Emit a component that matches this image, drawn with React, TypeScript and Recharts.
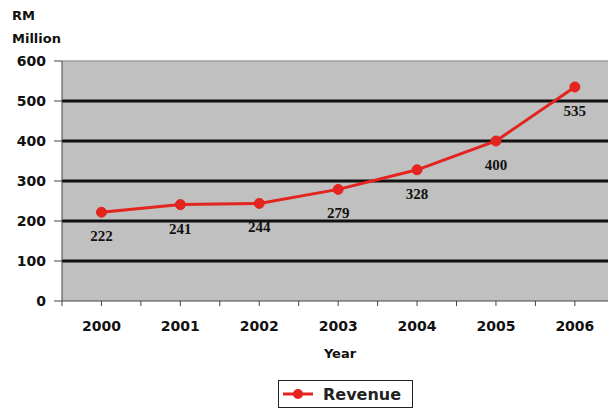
import React from 'react';
import { LineChart, Line, XAxis, YAxis, ReferenceLine, ReferenceArea, Legend } from 'recharts';

const years = ['2000', '2001', '2002', '2003', '2004', '2005', '2006'];
const revenue = [222, 241, 244, 279, 328, 400, 535];
const yTicks = [0, 100, 200, 300, 400, 500, 600];
const gridValues = [100, 200, 300, 400, 500];
const xTicks = [-0.5, 0, 0.5, 1, 1.5, 2, 2.5, 3, 3.5, 4, 4.5, 5, 5.5, 6];

const data = years.map((y, i) => ({ idx: i, year: y, revenue: revenue[i] }));

const RED = '#e3241f';
const SANS = '"DejaVu Sans", Verdana, sans-serif';

const renderPointLabel = (props: any) => {
  const { x, y, value } = props;
  return (
    <text x={x} y={y + 29} textAnchor="middle" fontFamily='"Liberation Serif", serif' fontWeight="bold" fontSize={15} fill="#111">
      {value}
    </text>
  );
};

const renderLegend = () => (
  <div
    style={{
      boxSizing: 'border-box',
      width: 135,
      height: 28,
      border: '1px solid #222',
      background: '#fff',
      display: 'flex',
      alignItems: 'center',
      paddingLeft: 4,
    }}
  >
    <svg width={30} height={12}>
      <line x1={0} y1={6} x2={30} y2={6} stroke={RED} strokeWidth={3} />
      <circle cx={15} cy={6} r={5} fill={RED} />
    </svg>
    <span style={{ marginLeft: 10, fontFamily: SANS, fontWeight: 'bold', fontSize: 16, color: '#222' }}>Revenue</span>
  </div>
);

export default function App() {
  return (
    <div style={{ position: 'absolute', left: 8, top: 8, width: 600, height: 402, overflow: 'hidden' }}>
      <LineChart width={600} height={402} data={data} margin={{ top: 53, right: 0, bottom: 2, left: 0 }}>
        <ReferenceArea y1={0} y2={600} fill="#c0c0c0" fillOpacity={1} stroke="none" ifOverflow="visible" />
        {gridValues.map((v) => (
          <ReferenceLine key={v} y={v} stroke="#111" strokeWidth={3} />
        ))}
        <ReferenceLine y={600} stroke="#9aa49a" strokeWidth={1.5} />
        <XAxis
          dataKey="idx"
          type="number"
          domain={[-0.5, 6.42]}
          allowDataOverflow
          ticks={xTicks}
          interval={0}
          tickFormatter={(v: number) => (Number.isInteger(v) ? years[v] : '')}
          height={79}
          tickSize={5}
          tickMargin={15}
          stroke="#444"
          tick={{ fontFamily: SANS, fontWeight: 'bold', fontSize: 14, fill: '#111' }}
          label={{
            content: (p: any) => (
              <text
                x={p.viewBox.x + p.viewBox.width / 2 + 5}
                y={p.viewBox.y + 57}
                textAnchor="middle"
                fontFamily={SANS}
                fontWeight="bold"
                fontSize={13}
                fill="#111"
              >
                Year
              </text>
            ),
          }}
        />
        <YAxis
          domain={[0, 600]}
          ticks={yTicks}
          interval={0}
          width={54}
          tickSize={8}
          tickMargin={8}
          stroke="#444"
          tick={{ fontFamily: SANS, fontWeight: 'bold', fontSize: 14, fill: '#111' }}
          label={{
            content: (p: any) => (
              <text fontFamily={SANS} fontWeight="bold" fontSize={13} fill="#111">
                <tspan x={p.viewBox.x + 4} y={p.viewBox.y - 41}>RM</tspan>
                <tspan x={p.viewBox.x + 4} y={p.viewBox.y - 18}>Million</tspan>
              </text>
            ),
          }}
        />
        <Legend verticalAlign="bottom" content={renderLegend} wrapperStyle={{ left: 270, width: 135, bottom: 2 }} />
        <Line
          dataKey="revenue"
          stroke={RED}
          strokeWidth={3}
          dot={{ r: 5, fill: RED, stroke: RED, strokeWidth: 1 }}
          isAnimationActive={false}
          label={renderPointLabel}
        />
      </LineChart>
    </div>
  );
}
